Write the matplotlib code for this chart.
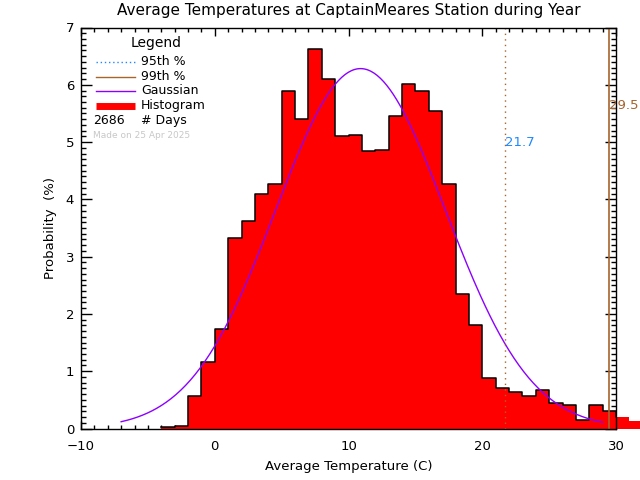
import numpy as np
import matplotlib
matplotlib.use("Agg")
import matplotlib.pyplot as plt
from matplotlib.lines import Line2D
from matplotlib.ticker import MultipleLocator

# histogram: left edge of each 1-degree bin and its probability (%)
bin_left = [-4, -3, -2, -1, 0, 1, 2, 3, 4, 5, 6, 7, 8, 9, 10, 11, 12, 13,
            14, 15, 16, 17, 18, 19, 20, 21, 22, 23, 24, 25, 26, 27, 28, 29,
            30, 31]
prob = [0.02, 0.04, 0.57, 1.16, 1.74, 3.32, 3.62, 4.09, 4.26, 5.90, 5.40,
        6.62, 6.10, 5.10, 5.13, 4.84, 4.87, 5.45, 6.01, 5.90, 5.55, 4.26,
        2.34, 1.81, 0.89, 0.70, 0.63, 0.56, 0.67, 0.45, 0.41, 0.14, 0.41,
        0.31, 0.20, 0.13]

# gaussian fit parameters
g_mean = 10.9
g_std = 6.35
g_from, g_to = -7.0, 29.0

p95 = 21.7
p99 = 29.5
n_days = 2686
made_on = "Made on 25 Apr 2025"

W, H = 640, 480
fig = plt.figure(figsize=(6.4, 4.8), dpi=100)
ax = fig.add_axes([81 / W, 1 - 428.5 / H, 535 / W, 401 / H])

ax.bar(bin_left, prob, width=1.0, align='edge', color='#ff0000',
       linewidth=0, clip_on=False, zorder=2)
# black outline only inside the plot box
sx = list(bin_left) + [bin_left[-1] + 1]
sy = list(prob) + [prob[-1]]
ax.step(sx, sy, where='post', color='black', lw=1.1, zorder=3)

gx = np.linspace(g_from, g_to, 300)
gy = 100.0 / (g_std * np.sqrt(2 * np.pi)) * np.exp(-(gx - g_mean) ** 2 / (2 * g_std ** 2))
ax.plot(gx, gy, color='#8c00ff', lw=1.0, zorder=4)

brown = '#a8642c'
ax.axvline(p95, color=brown, ls=(0, (1, 3)), lw=1.0, zorder=4)
ax.axvline(p99, color=brown, lw=1.2, zorder=4)
ax.text(p95, 4.94, '%.1f' % p95, color='#1e88ff', fontsize=9.5, ha='left', va='baseline')
ax.text(p99, 5.57, '%.1f' % p99, color=brown, fontsize=9.5, ha='left', va='baseline',
        clip_on=False)

ax.set_xlim(-10, 30)
ax.set_ylim(0, 7)
ax.xaxis.set_major_locator(MultipleLocator(10))
ax.xaxis.set_minor_locator(MultipleLocator(1))
ax.yaxis.set_major_locator(MultipleLocator(1))
ax.yaxis.set_minor_locator(MultipleLocator(0.1))
ax.tick_params(axis='both', which='both', direction='in', top=True, right=True,
               labelsize=9.5, width=1.0, colors='black')
ax.tick_params(axis='x', which='major', length=5.8, pad=8)
ax.tick_params(axis='x', which='minor', length=2.9)
ax.tick_params(axis='y', which='major', length=7.7, pad=5)
ax.tick_params(axis='y', which='minor', length=3.8)
for s in ax.spines.values():
    s.set_linewidth(1.0)
    s.set_zorder(5)

ax.set_xlabel('Average Temperature (C)', fontsize=9.5, labelpad=5)
ax.set_ylabel('Probability  (%)', fontsize=9.5, labelpad=6)
fig.text(349 / W, 1 - 11 / H, 'Average Temperatures at CaptainMeares Station during Year',
         ha='center', va='center', fontsize=11)

# hand-drawn legend, as in the original
def fx(px):
    return px / W

def fy(py):
    return 1 - py / H

fig.text(fx(156), fy(43), 'Legend', ha='center', va='center', fontsize=10)
items = [
    ('95th %', dict(color='#1e88ff', ls=(0, (1, 2)), lw=1.0), 61.5),
    ('99th %', dict(color=brown, lw=1.0), 76.5),
    ('Gaussian', dict(color='#8c00ff', lw=1.0), 90.5),
    ('Histogram', dict(color='#ff0000', lw=5.0, solid_capstyle='butt'), 105.5),
]
for label, style, py in items:
    fig.add_artist(Line2D([fx(96), fx(135)], [fy(py), fy(py)],
                          transform=fig.transFigure, **style))
    fig.text(fx(141), fy(py), label, ha='left', va='center', fontsize=9)
fig.text(fx(93), fy(120.5), str(n_days), ha='left', va='center', fontsize=9)
fig.text(fx(141), fy(120.5), '# Days', ha='left', va='center', fontsize=9)
fig.text(fx(93), fy(135), made_on, ha='left', va='center', fontsize=6.5, color='#c8c8c8')

fig.savefig('out.png', dpi=100)
